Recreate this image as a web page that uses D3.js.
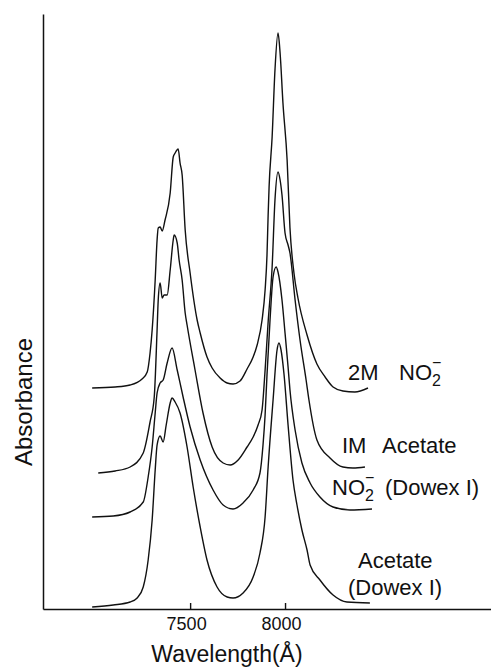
<!DOCTYPE html>
<html>
<head>
<meta charset="utf-8">
<script src="https://cdn.jsdelivr.net/npm/d3@7"></script>
<style>
  body { margin: 0; background: #fff; }
  svg { display: block; }
  text { font-family: "Liberation Sans", Arial, sans-serif; fill: #111; }
</style>
</head>
<body>
<div id="chart"></div>
<script>
// wavelength in Angstrom, absorbance in arbitrary (offset) units
const wlNitrite2M = [6984, 7105, 7184, 7247, 7274, 7289, 7300, 7316, 7326, 7332, 7342, 7353, 7368, 7395, 7411, 7421, 7437, 7447, 7458, 7474, 7500, 7537, 7553, 7589, 7616, 7658, 7695, 7726, 7763, 7800, 7832, 7853, 7879, 7895, 7905, 7911, 7916, 7932, 7947, 7963, 7974, 7989, 8011, 8026, 8047, 8068, 8116, 8168, 8211, 8253, 8305, 8368, 8437];
const absNitrite2M = [0.442, 0.444, 0.448, 0.460, 0.474, 0.512, 0.558, 0.658, 0.738, 0.762, 0.764, 0.756, 0.778, 0.832, 0.904, 0.912, 0.920, 0.892, 0.868, 0.758, 0.672, 0.578, 0.552, 0.504, 0.482, 0.462, 0.452, 0.450, 0.456, 0.480, 0.504, 0.528, 0.578, 0.638, 0.708, 0.788, 0.844, 0.944, 1.078, 1.152, 1.112, 1.012, 0.898, 0.762, 0.672, 0.622, 0.548, 0.490, 0.464, 0.444, 0.436, 0.434, 0.442];

const wlAcetate1M = [7016, 7105, 7184, 7253, 7289, 7311, 7326, 7332, 7342, 7353, 7363, 7379, 7395, 7411, 7416, 7432, 7442, 7458, 7474, 7484, 7526, 7568, 7616, 7674, 7711, 7753, 7800, 7832, 7858, 7879, 7895, 7911, 7932, 7947, 7963, 7974, 7984, 8000, 8016, 8026, 8053, 8079, 8111, 8126, 8168, 8237, 8305, 8358, 8421];
const absAcetate1M = [0.272, 0.276, 0.284, 0.312, 0.374, 0.424, 0.558, 0.618, 0.652, 0.622, 0.628, 0.628, 0.678, 0.738, 0.748, 0.732, 0.698, 0.658, 0.592, 0.568, 0.478, 0.392, 0.324, 0.292, 0.288, 0.298, 0.324, 0.344, 0.368, 0.398, 0.478, 0.574, 0.684, 0.818, 0.874, 0.858, 0.828, 0.752, 0.728, 0.712, 0.618, 0.538, 0.458, 0.418, 0.338, 0.302, 0.284, 0.282, 0.284];

const wlNitriteDowex = [6984, 7095, 7184, 7253, 7279, 7300, 7316, 7326, 7342, 7358, 7379, 7405, 7432, 7463, 7500, 7553, 7621, 7674, 7726, 7779, 7832, 7868, 7884, 7895, 7905, 7921, 7937, 7953, 7963, 7984, 8000, 8016, 8026, 8053, 8089, 8132, 8184, 8253, 8342, 8458];
const absNitriteDowex = [0.184, 0.186, 0.194, 0.214, 0.264, 0.324, 0.392, 0.432, 0.452, 0.458, 0.492, 0.522, 0.478, 0.424, 0.364, 0.298, 0.238, 0.208, 0.200, 0.212, 0.238, 0.272, 0.328, 0.388, 0.468, 0.578, 0.664, 0.684, 0.674, 0.618, 0.552, 0.484, 0.438, 0.358, 0.292, 0.252, 0.224, 0.204, 0.198, 0.200];

const wlAcetateDowex = [6984, 7095, 7184, 7221, 7253, 7279, 7300, 7316, 7326, 7342, 7358, 7374, 7395, 7405, 7421, 7447, 7484, 7516, 7553, 7589, 7642, 7695, 7726, 7779, 7832, 7868, 7895, 7911, 7937, 7958, 7968, 7979, 7995, 8016, 8042, 8063, 8089, 8116, 8132, 8184, 8253, 8326, 8447];
const absAcetateDowex = [0.004, 0.008, 0.014, 0.022, 0.044, 0.098, 0.178, 0.278, 0.328, 0.346, 0.334, 0.368, 0.412, 0.422, 0.414, 0.392, 0.324, 0.244, 0.164, 0.098, 0.044, 0.024, 0.022, 0.032, 0.064, 0.112, 0.184, 0.284, 0.418, 0.518, 0.532, 0.518, 0.468, 0.368, 0.258, 0.208, 0.158, 0.118, 0.088, 0.058, 0.028, 0.014, 0.012];

const xTicks = [7500, 8000];
const xTickLabels = ["7500", "8000"];

const series = [
  { wl: wlNitrite2M, abs: absNitrite2M },
  { wl: wlAcetate1M, abs: absAcetate1M },
  { wl: wlNitriteDowex, abs: absNitriteDowex },
  { wl: wlAcetateDowex, abs: absAcetateDowex },
].map((s) => s.wl.map((w, i) => ({ x: w, y: s.abs[i] })));

const width = 491, height = 667;
const margins = { top: 14, right: 0, bottom: 58, left: 43 };
const innerWidth = width - margins.left - margins.right;
const innerHeight = height - margins.top - margins.bottom;

const svg = d3.select("#chart").append("svg")
  .attr("width", width)
  .attr("height", height);

const mainG = svg.append("g")
  .attr("transform", `translate(${margins.left},${margins.top})`);

const xScale = d3.scaleLinear().domain([6725, 9085]).range([0, innerWidth]);
const yScale = d3.scaleLinear().domain([0, 1.19]).range([innerHeight, 0]);

// curves
const line = d3.line()
  .x((d) => xScale(d.x))
  .y((d) => yScale(d.y))
  .curve(d3.curveMonotoneX);

mainG.append("g").attr("class", "curves")
  .selectAll("path")
  .data(series)
  .join("path")
  .attr("d", line)
  .attr("fill", "none")
  .attr("stroke", "#111")
  .attr("stroke-width", 1.4)
  .attr("stroke-linejoin", "round");

// axes
const xAxisG = mainG.append("g")
  .attr("transform", `translate(0,${innerHeight})`)
  .call(d3.axisBottom(xScale)
    .tickValues(xTicks)
    .tickFormat((d, i) => xTickLabels[i])
    .tickSizeInner(-6)
    .tickSizeOuter(0)
    .tickPadding(8));
xAxisG.select(".domain").attr("stroke", "#111").attr("stroke-width", 1.5);
xAxisG.selectAll(".tick line").attr("stroke", "#111").attr("stroke-width", 1.4);
xAxisG.selectAll(".tick text")
  .attr("font-family", "Liberation Sans, Arial, sans-serif")
  .attr("font-size", "18px")
  .attr("fill", "#111")
  .attr("dx", "-4");

const yAxisG = mainG.append("g")
  .call(d3.axisLeft(yScale).ticks(0).tickSizeOuter(0));
yAxisG.select(".domain").attr("stroke", "#111").attr("stroke-width", 1.5);

// axis titles
svg.append("text")
  .attr("x", 227)
  .attr("y", 662)
  .attr("text-anchor", "middle")
  .attr("font-size", "23px")
  .text("Wavelength(Å)");

svg.append("text")
  .attr("transform", "translate(32,402) rotate(-90)")
  .attr("text-anchor", "middle")
  .attr("font-size", "24px")
  .text("Absorbance");

// curve labels
const labelG = svg.append("g").attr("font-size", "22px");

// "NO2-" with stacked subscript 2 and superscript minus, inside one text
function nitrite(t, x, y) {
  t.append("tspan").attr("x", x).attr("y", y).text("NO");
  t.append("tspan").attr("dy", 6).attr("font-size", "16px").text("2");
  t.append("tspan").attr("dx", -9).attr("dy", -18).attr("font-size", "16px").text("−");
}

const l1 = labelG.append("text").attr("x", 348).attr("y", 380);
l1.append("tspan").text("2M");
nitrite(l1, 399, 380);

labelG.append("text").attr("x", 342).attr("y", 453)
  .call((t) => {
    t.append("tspan").text("IM");
    t.append("tspan").attr("x", 382).text("Acetate");
  });

const l3 = labelG.append("text");
nitrite(l3, 332, 495);
l3.append("tspan").attr("x", 385).attr("y", 495).attr("font-size", "22px").text("(Dowex I)");

labelG.append("text").attr("x", 358).attr("y", 568).text("Acetate");
labelG.append("text").attr("x", 348).attr("y", 595).text("(Dowex I)");
</script>
</body>
</html>
